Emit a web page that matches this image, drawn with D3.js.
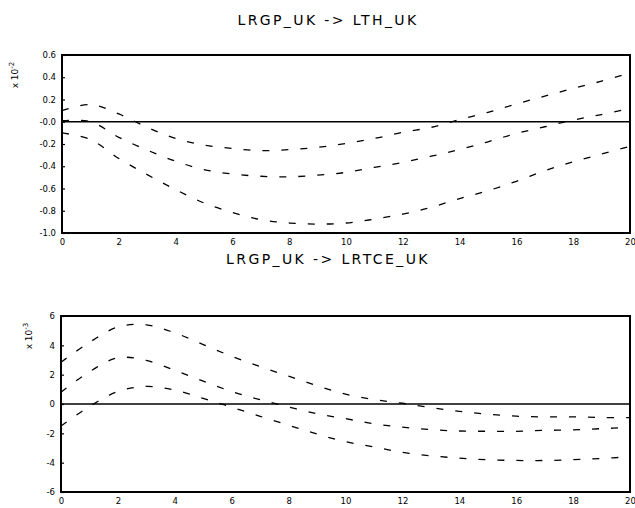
<!DOCTYPE html>
<html>
<head>
<meta charset="utf-8">
<script src="https://cdn.jsdelivr.net/npm/d3@7"></script>
<style>
  html, body { margin: 0; padding: 0; background: #fff; }
  svg { display: block; font-family: "DejaVu Sans", "Liberation Sans", sans-serif; }
</style>
</head>
<body>
<svg id="chart" width="635" height="508"></svg>
<script>
// Horizon (periods 0..20)
const steps = d3.range(0, 21);
const xTicks = [0, 2, 4, 6, 8, 10, 12, 14, 16, 18, 20];

// Panel 1: LRGP_UK -> LTH_UK (scaled by 10^-2)
const thUpper = [0.10, 0.155, 0.07, -0.05, -0.15, -0.21, -0.24, -0.26, -0.25, -0.23, -0.195,
                 -0.15, -0.095, -0.05, 0.02, 0.085, 0.16, 0.23, 0.30, 0.365, 0.44];
const thMid   = [0.01, 0.0, -0.14, -0.255, -0.355, -0.43, -0.47, -0.49, -0.495, -0.48, -0.455,
                 -0.41, -0.365, -0.31, -0.25, -0.18, -0.105, -0.045, 0.015, 0.065, 0.12];
const thLower = [-0.10, -0.16, -0.33, -0.475, -0.61, -0.73, -0.815, -0.88, -0.91, -0.92, -0.91,
                 -0.875, -0.83, -0.77, -0.69, -0.62, -0.535, -0.44, -0.36, -0.29, -0.22];
const thTicks = [0.6, 0.4, 0.2, 0.0, -0.2, -0.4, -0.6, -0.8, -1.0];
const thTickLabels = ["0.6", "0.4", "0.2", "-0.0", "-0.2", "-0.4", "-0.6", "-0.8", "-1.0"];

// Panel 2: LRGP_UK -> LRTCE_UK (scaled by 10^-3)
const tceUpper = [2.85, 4.2, 5.25, 5.4, 4.85, 4.05, 3.25, 2.55, 1.9, 1.25, 0.67,
                  0.3, 0.05, -0.25, -0.5, -0.7, -0.83, -0.88, -0.88, -0.92, -0.93];
const tceMid   = [0.8, 2.2, 3.15, 2.97, 2.3, 1.56, 0.85, 0.29, -0.2, -0.67, -1.0,
                  -1.35, -1.58, -1.75, -1.84, -1.86, -1.86, -1.8, -1.77, -1.68, -1.6];
const tceLower = [-1.5, -0.17, 0.85, 1.2, 0.95, 0.38, -0.22, -0.84, -1.45, -2.05, -2.57,
                  -2.93, -3.3, -3.53, -3.69, -3.8, -3.85, -3.85, -3.8, -3.71, -3.6];
const tceTicks = [6, 4, 2, 0, -2, -4, -6];
const tceTickLabels = ["6", "4", "2", "0", "-2", "-4", "-6"];

const svg = d3.select("#chart");

function panel(opts) {
  const { title, titleY, left, right, top, bottom, yDomain, ticks, tickLabels,
          series, scaleText, scaleX } = opts;
  const x = d3.scaleLinear().domain([0, 20]).range([left, right]);
  const y = d3.scaleLinear().domain(yDomain).range([bottom, top]);
  const g = svg.append("g");

  g.append("text")
    .attr("x", 328).attr("y", titleY)
    .attr("text-anchor", "middle")
    .attr("font-size", 14).attr("letter-spacing", 2.4)
    .attr("fill", "#000")
    .text(title);

  // Left axis with inward ticks
  const yAxis = d3.axisLeft(y).tickValues(ticks)
    .tickFormat((d, i) => tickLabels[i]).tickSize(-3).tickPadding(6);
  const ya = g.append("g").attr("transform", `translate(${left},0)`).call(yAxis);
  ya.select(".domain").remove();
  ya.selectAll("line").attr("stroke", "#000").attr("stroke-width", 1.2);
  ya.selectAll("text").attr("font-size", 8.5).attr("fill", "#000")
    .attr("font-family", "DejaVu Sans, sans-serif");

  // Bottom axis labels
  const xAxis = d3.axisBottom(x).tickValues(xTicks).tickSize(0).tickPadding(6);
  const xa = g.append("g").attr("transform", `translate(0,${bottom})`).call(xAxis);
  xa.select(".domain").remove();
  xa.selectAll("text").attr("font-size", 8.5).attr("fill", "#000")
    .attr("font-family", "DejaVu Sans, sans-serif");

  // Scale multiplier
  const st = g.append("text")
    .attr("transform", `translate(${scaleX},${top + 20}) rotate(-90)`)
    .attr("text-anchor", "middle")
    .attr("font-size", 9).attr("fill", "#000");
  st.append("tspan").text("x 10");
  st.append("tspan").attr("dy", -4).attr("font-size", 7).text(scaleText);

  // Zero line
  g.append("line")
    .attr("x1", left).attr("x2", right)
    .attr("y1", y(0)).attr("y2", y(0))
    .attr("stroke", "#000").attr("stroke-width", 1.6);

  // Response bands
  const line = d3.line()
    .x((d, i) => x(steps[i]))
    .y(d => y(d))
    .curve(d3.curveCatmullRom.alpha(0.5));
  series.forEach(s => {
    g.append("path")
      .attr("d", line(s))
      .attr("fill", "none")
      .attr("stroke", "#000")
      .attr("stroke-width", 1.3)
      .attr("stroke-dasharray", "7,12");
  });

  // Frame
  g.append("rect")
    .attr("x", left).attr("y", top)
    .attr("width", right - left).attr("height", bottom - top)
    .attr("fill", "none").attr("stroke", "#000").attr("stroke-width", 2);
}

panel({
  title: "LRGP_UK -> LTH_UK", titleY: 25,
  left: 62, right: 630, top: 55, bottom: 233,
  yDomain: [-1.0, 0.6], ticks: thTicks, tickLabels: thTickLabels,
  series: [thUpper, thMid, thLower], scaleText: "-2", scaleX: 18
});

panel({
  title: "LRGP_UK -> LRTCE_UK", titleY: 264,
  left: 61, right: 630, top: 316, bottom: 492,
  yDomain: [-6, 6], ticks: tceTicks, tickLabels: tceTickLabels,
  series: [tceUpper, tceMid, tceLower], scaleText: "-3", scaleX: 32
});
</script>
</body>
</html>
